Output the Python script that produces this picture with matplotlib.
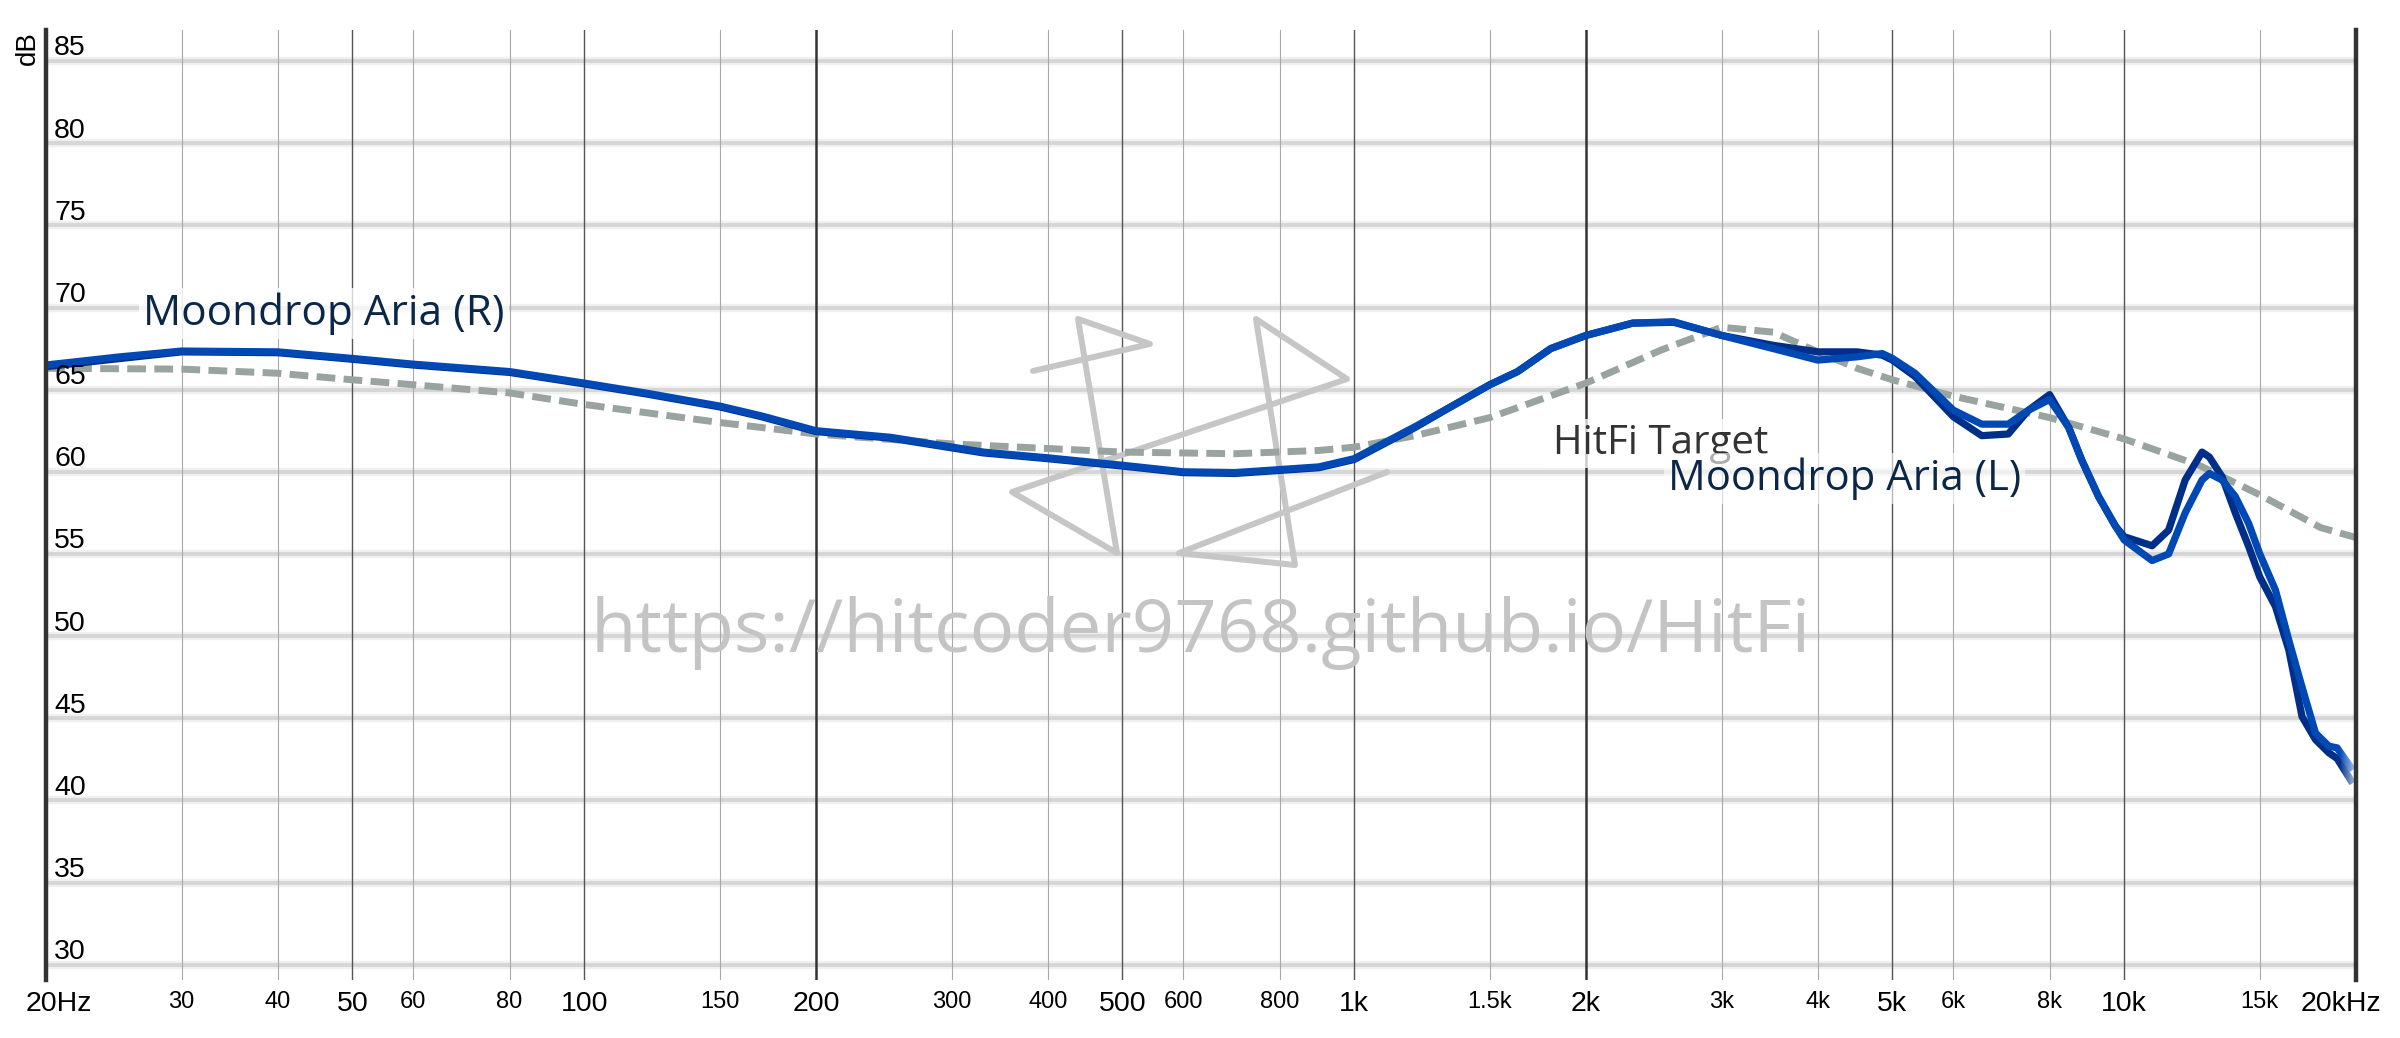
import matplotlib
matplotlib.use('Agg')
import matplotlib.pyplot as plt
import numpy as np

W, H = 2400, 1038
DPI = 100

# HitFi target (dashed grey)
freq_target = [20, 30, 40, 50, 60, 80, 100, 150, 200, 300, 500, 700, 900, 1000,
               1200, 1500, 2000, 2500, 3000, 3500, 4000, 4500, 5000, 6000, 8000,
               10000, 12500, 15000, 18000, 20000]
db_target = [66.3, 66.25, 66.0, 65.6, 65.3, 64.8, 64.1, 63.0, 62.3, 61.7, 61.2, 61.1, 61.3, 61.5,
             62.2, 63.3, 65.4, 67.4, 68.8, 68.5, 67.3, 66.3, 65.6, 64.6, 63.3,
             62.0, 60.4, 58.6, 56.6, 56.0]

# Moondrop Aria measurements
freq_aria = [20, 25, 30, 40, 50, 60, 80, 100, 120, 150, 170, 200, 250, 330, 400, 500, 600, 700,
             900, 1000, 1200, 1340, 1500, 1630, 1800, 2000, 2300, 2600, 3000, 3500,
             4000, 4500, 4850, 5000, 5350, 6000, 6530, 7070, 7510, 8000, 8470, 8810,
             9260, 9740, 10000, 10870, 11420, 12000, 12620, 12900, 13400, 13940,
             14510, 15000, 15720, 16360, 17020, 17720, 18440, 18900, 19800]
db_aria_l = [66.4, 66.9, 67.3, 67.25, 66.85, 66.5, 66.05, 65.35, 64.75, 63.95, 63.35, 62.45, 62.05, 61.15,
             60.8, 60.35, 59.95, 59.9, 60.25, 60.75, 62.7, 64.0, 65.3, 66.1, 67.5, 68.3,
             69.05, 69.1, 68.3, 67.7, 67.3, 67.3, 67.1, 66.8, 65.8, 63.35, 62.2, 62.3,
             63.75, 64.7, 62.7, 60.7, 58.5, 56.7, 56.05, 55.5, 56.45, 59.5, 61.2, 60.9,
             59.7, 57.5, 55.45, 53.6, 51.8, 49.15, 45.1, 43.7, 42.9, 42.55, 41.05]
db_aria_r = [66.5, 67.0, 67.35, 67.3, 66.9, 66.55, 66.1, 65.4, 64.8, 64.0, 63.4, 62.5, 62.1, 61.2,
             60.85, 60.4, 60.0, 59.95, 60.3, 60.8, 62.75, 64.0, 65.3, 66.1, 67.5, 68.3,
             69.05, 69.13, 68.3, 67.5, 66.8, 67.0, 67.2, 66.9, 66.0, 63.75, 62.9, 62.9,
             63.75, 64.4, 62.7, 60.7, 58.5, 56.7, 55.85, 54.6, 55.0, 57.5, 59.5, 59.9,
             59.5, 58.5, 56.85, 55.0, 52.8, 49.75, 46.9, 44.1, 43.3, 43.2, 41.85]

grid_db = [30, 35, 40, 45, 50, 55, 60, 65, 70, 75, 80, 85]

big_ticks = [20, 50, 100, 200, 500, 1000, 2000, 5000, 10000, 20000]
big_tick_labels = ['20Hz', '50', '100', '200', '500', '1k', '2k', '5k', '10k', '20kHz']
small_ticks = [30, 40, 60, 80, 150, 300, 400, 600, 800, 1500, 3000, 4000, 6000, 8000, 15000]
small_tick_labels = ['30', '40', '60', '80', '150', '300', '400', '600', '800',
                     '1.5k', '3k', '4k', '6k', '8k', '15k']
mid_lines = [50, 100, 500, 1000, 5000, 10000]
heavy_lines = [200, 2000]

# watermark logo polyline, figure pixels
logo_x = [1033, 1150, 1078, 1117, 1012, 1347, 1256, 1295, 1179, 1387]
logo_y = [371, 344, 319, 553, 492, 379, 319, 565, 553, 472]

navy = '#0b2748'
dark_blue = '#002f8a'
bright_blue = '#0049b5'
target_grey = '#99a39f'


def fx(px):
    return px / W


def fy(py):
    return 1 - py / H


fig = plt.figure(figsize=(W / DPI, H / DPI), dpi=DPI)
ax = fig.add_axes([fx(46), fy(980), (2356 - 46) / W, (980 - 30) / H])
ax.set_xscale('log')
ax.set_xlim(20, 20000)
ax.set_ylim(29.07, 86.89)
ax.set_xticks([])
ax.set_yticks([])
ax.minorticks_off()
for s in ['top', 'bottom']:
    ax.spines[s].set_visible(False)
for s in ['left', 'right']:
    ax.spines[s].set_color('#333333')
    ax.spines[s].set_linewidth(3.2)
    ax.spines[s].set_zorder(5)

# horizontal grid, soft and thick
for v in grid_db:
    ax.axhline(v, color='#f0f0f0', lw=6, zorder=1)
    ax.axhline(v, color='#d6d6d6', lw=2.8, zorder=1.05)

# vertical grid
for f in small_ticks:
    ax.axvline(f, color='#a9a9a9', lw=0.8, zorder=1.2)
for f in mid_lines:
    ax.axvline(f, color='#555555', lw=1.0, zorder=1.2)
for f in heavy_lines:
    ax.axvline(f, color='#333333', lw=1.8, zorder=1.2)

# y labels inside the plot, above each grid line
for v in grid_db:
    ax.annotate(str(v), xy=(0, v), xycoords=('axes fraction', 'data'),
                xytext=(5.8, 4.0), textcoords='offset points',
                ha='left', va='baseline', fontsize=20.5,
                family='Liberation Sans', color='black', zorder=4)

# x labels
for f, lbl in zip(big_ticks, big_tick_labels):
    dx = 0
    if lbl == '20Hz':
        dx = 9
    elif lbl == '20kHz':
        dx = -10.5
    ax.annotate(lbl, xy=(f, 0), xycoords=('data', 'axes fraction'),
                xytext=(dx, -22.5), textcoords='offset points',
                ha='center', va='baseline', fontsize=20.5,
                family='Liberation Sans', color='black', annotation_clip=False)
for f, lbl in zip(small_ticks, small_tick_labels):
    ax.annotate(lbl, xy=(f, 0), xycoords=('data', 'axes fraction'),
                xytext=(0, -20.2), textcoords='offset points',
                ha='center', va='baseline', fontsize=17,
                family='Liberation Sans', color='black', annotation_clip=False)

fig.text(fx(28), fy(48), 'dB', rotation=90, ha='center', va='center',
         fontsize=20, family='Liberation Sans', color='black')

# watermark
ax.text(fx(1201), fy(652), 'https://hitcoder9768.github.io/HitFi',
        transform=fig.transFigure, ha='center', va='baseline',
        fontsize=53.5, family='Open Sans', color='#c4c4c4', zorder=1.5)
ax.plot([fx(p) for p in logo_x], [fy(p) for p in logo_y], transform=fig.transFigure,
        color='#c6c6c6', lw=4.3, solid_joinstyle='round', solid_capstyle='round',
        zorder=1.6)

# curves
ax.plot(freq_target, db_target, color=target_grey, lw=5.0, ls=(0, (2.7, 1.2)),
        dash_capstyle='butt', zorder=2)
ax.plot(freq_aria, db_aria_l, color=dark_blue, lw=5.2, solid_joinstyle='round',
        solid_capstyle='butt', zorder=2.1)
ax.plot(freq_aria, db_aria_r, color=bright_blue, lw=5.2, solid_joinstyle='round',
        solid_capstyle='butt', zorder=2.2)

# fade the curve ends at 20kHz
fade = np.ones((1, 64, 4))
fade[0, :, 3] = np.linspace(0, 0.75, 64)
ax.imshow(fade, extent=(19000, 20000, 40.5, 44.5), aspect='auto', zorder=2.5,
          interpolation='bilinear')
ax.set_xlim(20, 20000)
ax.set_ylim(29.07, 86.89)

# curve labels
ax.text(fx(143), fy(325), 'Moondrop Aria (R)', transform=fig.transFigure,
        ha='left', va='baseline', fontsize=30.5, family='Open Sans', color=navy,
        zorder=3, bbox=dict(facecolor='white', edgecolor='none', alpha=0.75, pad=3))
ax.text(fx(1553), fy(454), 'HitFi Target', transform=fig.transFigure,
        ha='left', va='baseline', fontsize=29, family='Open Sans', color='#333333',
        zorder=3, bbox=dict(facecolor='white', edgecolor='none', alpha=0.75, pad=3))
ax.text(fx(1668), fy(490), 'Moondrop Aria (L)', transform=fig.transFigure,
        ha='left', va='baseline', fontsize=30.2, family='Open Sans', color=navy,
        zorder=3.1, bbox=dict(facecolor='white', edgecolor='none', alpha=0.6, pad=3))

fig.savefig('out.png', dpi=DPI, facecolor='white')
